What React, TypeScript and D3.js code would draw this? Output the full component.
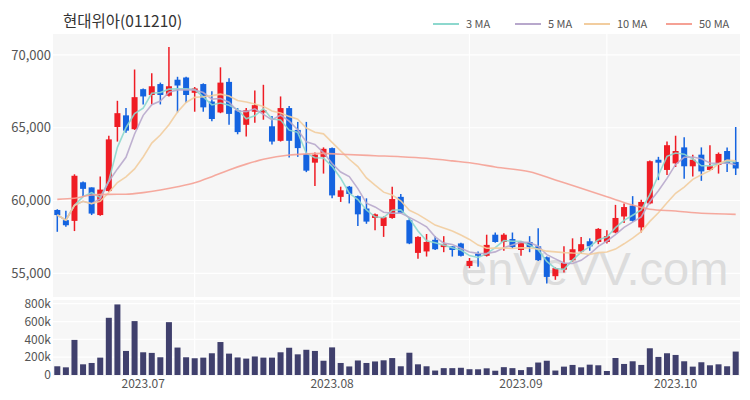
import * as d3 from 'd3'

// daily OHLC (KRW)
const opens = [
  59350, 58650, 58600, 61250, 60900, 59000, 60650, 65050, 65850, 64900,
  67650, 67250, 68000, 67200, 68300, 68450, 67400, 68000, 66800, 66050,
  68150, 66200, 65200, 66100, 66050, 65100, 64100, 66350, 64850, 63200,
  62600, 63000, 63600, 60250, 60950, 60300, 59450, 58800, 58250, 58800,
  60250, 58650, 56400, 56500, 57300, 56800, 56850, 57050, 55500, 56350,
  56200, 57650, 57150, 57350, 56600, 57150, 56850, 56100, 54800, 55250,
  55900, 56500, 57200, 57150, 57150, 57800, 58900, 59650, 58150, 59800,
  62800, 62100, 62550, 63650, 62350, 63150, 62100, 62450, 63400, 62650,
]
const highs = [
  59400, 59300, 61800, 61300, 60900, 61650, 64450, 66850, 66350, 69000,
  67700, 68750, 68100, 70550, 68500, 68500, 67800, 68050, 67500, 69150,
  68400, 66350, 66350, 67550, 67950, 65800, 67150, 66500, 65400, 65400,
  63300, 63650, 63650, 60950, 61000, 60350, 60150, 59100, 58900, 60950,
  60450, 58800, 57550, 57700, 57550, 57550, 56850, 57100, 56050, 56500,
  57650, 57800, 57750, 57800, 57200, 57550, 58100, 56150, 55400, 56850,
  57400, 57500, 57400, 58100, 57950, 59700, 59800, 60300, 60050, 62750,
  63000, 64050, 64450, 64350, 63150, 63650, 63800, 63300, 63650, 65050,
]
const lows = [
  57850, 58200, 57900, 60300, 59000, 58950, 60600, 64050, 64650, 64850,
  66600, 66600, 66600, 67150, 66050, 66700, 66100, 66100, 65450, 66000,
  65200, 64550, 64400, 65350, 65550, 63850, 64050, 62950, 63000, 61950,
  61000, 61850, 60150, 59900, 59800, 58250, 58400, 57950, 57500, 58750,
  59100, 57000, 56000, 56150, 56600, 56450, 56150, 56150, 55350, 55450,
  56150, 57100, 56550, 56700, 56200, 56450, 55850, 54300, 54550, 55050,
  55800, 56350, 56550, 57000, 57050, 57750, 58450, 58550, 57800, 59750,
  61400, 61750, 62300, 61500, 61650, 61350, 62050, 61850, 61950, 61750,
]
const closes = [
  59000, 58300, 61700, 60800, 59100, 60750, 64200, 66000, 64800, 67100,
  67150, 67850, 67250, 67850, 67900, 67250, 67700, 66400, 65600, 68100,
  65950, 64700, 66200, 66550, 66200, 64050, 66350, 64100, 63600, 62050,
  63150, 63550, 60350, 60700, 60450, 59050, 58550, 59050, 58850, 60100,
  59150, 57050, 57500, 57150, 56650, 57000, 56600, 56200, 55850, 56200,
  56950, 57150, 57650, 56800, 57150, 56800, 55900, 54750, 55350, 55700,
  56650, 57000, 56850, 58050, 57550, 58800, 59550, 58600, 59900, 62700,
  62600, 63800, 63400, 62350, 62800, 62000, 62350, 63200, 62550, 62200,
]
// volume, shares
const volumes = [
  98000, 86000, 394000, 120000, 135000, 195000, 642000, 792000, 270000, 605000,
  255000, 248000, 199000, 593000, 308000, 199000, 188000, 195000, 244000, 370000,
  240000, 197000, 184000, 208000, 195000, 195000, 255000, 306000, 232000, 283000,
  270000, 160000, 310000, 135000, 96000, 163000, 135000, 152000, 165000, 190000,
  98000, 250000, 120000, 98000, 50000, 77000, 77000, 81000, 65000, 64000,
  75000, 48000, 88000, 77000, 55000, 88000, 140000, 160000, 50000, 94000,
  113000, 86000, 116000, 109000, 45000, 191000, 124000, 154000, 113000, 300000,
  203000, 244000, 225000, 154000, 94000, 143000, 109000, 120000, 98000, 263000,
]
// 50 MA needs history before the window, so it's
const ma50Points: [number, number][] = [
  [0, 60080], [2, 60150], [4, 60380], [6, 60420], [8, 60430], [10, 60540],
  [12, 60720], [14, 60950], [16, 61220], [18, 61640], [20, 62100], [22, 62500],
  [24, 62830], [27, 63130], [29, 63200], [31, 63240], [33, 63180], [37, 63080],
  [40, 63010], [43, 62900], [46, 62720], [49, 62510], [51, 62300], [55, 61980],
  [58, 61410], [61, 60840], [64, 60260], [67, 59690], [69, 59400], [72, 59280],
  [75, 59120], [79, 59050],
]
const monthTicks = [
  { i: 10, label: '2023.07' },
  { i: 32, label: '2023.08' },
  { i: 54, label: '2023.09' },
  { i: 72, label: '2023.10' },
]
const gridIdx = [16, 32, 48, 64]
const priceTicks = [55000, 60000, 65000, 70000]
const volTicks = [0, 200000, 400000, 600000, 800000]

const maSeries = [
  { name: '3 MA', n: 3, color: '#8dd8ce' },
  { name: '5 MA', n: 5, color: '#b8a8cc' },
  { name: '10 MA', n: 10, color: '#f2cd9f' },
  { name: '50 MA', n: 50, color: '#f5a195' },
]

const UP = '#ef1c24'
const DOWN = '#1463e0'
const FONT = '"Noto Sans CJK KR", "Noto Sans", sans-serif'

function rolling(n: number) {
  return closes.map((_, i) => d3.mean(closes.slice(Math.max(0, i - n + 1), i + 1)) as number)
}

export default function App() {
  const left = 53
  const right = 740
  const priceTop = 34
  const priceBottom = 297
  const volTop = 300
  const volBase = 375

  const x = d3
    .scaleBand<number>()
    .domain(d3.range(closes.length))
    .range([left, right])
    .paddingInner(0.3)
    .paddingOuter(0.15)
  const cx = (i: number) => (x(i) ?? 0) + x.bandwidth() / 2

  const y = d3.scaleLinear().domain([53370, 71440]).range([priceBottom, priceTop])
  const yv = d3.scaleLinear().domain([0, 853000]).range([volBase, volTop - 1])

  const line = d3
    .line<[number, number]>()
    .x((d) => cx(d[0]))
    .y((d) => y(d[1]))

  const maPaths = maSeries.map((m) => {
    const pts: [number, number][] =
      m.n === 50 ? ma50Points : rolling(m.n).map((v, i) => [i, v] as [number, number])
    return { ...m, d: line.curve(m.n === 50 ? d3.curveMonotoneX : d3.curveLinear)(pts) ?? '' }
  })

  const legendX = [433, 515, 584, 666]

  return (
    <svg width={750} height={400} style={{ position: 'absolute', left: 0, top: 0, fontFamily: FONT }}>
      <rect width={750} height={400} fill="#fff" />
      <text x={63} y={27} fontSize={15.5} fill="#333">
        현대위아(011210)
      </text>
      {maSeries.map((m, k) => (
        <g key={m.name} transform={`translate(${legendX[k]},24)`}>
          <line x1={0} x2={26} y1={0} y2={0} stroke={m.color} strokeWidth={2} />
          <text x={33} y={4} fontSize={11} fill="#555">
            {m.name}
          </text>
        </g>
      ))}

      {/* price panel */}
      <rect x={left} y={priceTop} width={right - left} height={priceBottom - priceTop} fill="#f6f6f6" />
      {priceTicks.map((t) => (
        <g key={t}>
          <line x1={left} x2={right} y1={y(t)} y2={y(t)} stroke="#fff" strokeWidth={1.2} />
          <text x={51} y={y(t)} dy="0.35em" textAnchor="end" fontSize={13} fill="#555">
            {d3.format(',')(t)}
          </text>
        </g>
      ))}
      {gridIdx.map((i) => (
        <line key={i} x1={cx(i)} x2={cx(i)} y1={priceTop} y2={priceBottom} stroke="#fff" strokeWidth={1.2} />
      ))}
      <text x={461} y={285} fontSize={47} fill="#dcdcdc" fontFamily="Liberation Sans, Arial, sans-serif">
        enVeVV.com
      </text>

      {closes.map((c, i) => {
        const o = opens[i]
        const up = c >= o
        const col = up ? UP : DOWN
        const top = y(Math.max(o, c))
        const bot = y(Math.min(o, c))
        return (
          <g key={i}>
            <line x1={cx(i)} x2={cx(i)} y1={y(highs[i])} y2={y(lows[i])} stroke={col} strokeWidth={1.5} />
            <rect x={x(i)} y={top} width={x.bandwidth()} height={Math.max(1.5, bot - top)} fill={col} />
          </g>
        )
      })}

      {maPaths.map((m) => (
        <path key={m.name} d={m.d} fill="none" stroke={m.color} strokeWidth={1.6} opacity={0.9} />
      ))}

      {/* volume panel */}
      <rect x={left} y={volTop} width={right - left} height={volBase + 1 - volTop} fill="#f7f7f7" />
      {volTicks.map((t) => (
        <g key={t}>
          {t > 0 && <line x1={left} x2={right} y1={yv(t)} y2={yv(t)} stroke="#fff" strokeWidth={1.2} />}
          <text x={51} y={yv(t)} dy="0.35em" textAnchor="end" fontSize={12} fill="#555">
            {t === 0 ? '0' : `${t / 1000}k`}
          </text>
        </g>
      ))}
      {gridIdx.map((i) => (
        <line key={i} x1={cx(i)} x2={cx(i)} y1={volTop} y2={volBase} stroke="#fff" strokeWidth={1.2} />
      ))}
      {volumes.map((v, i) => (
        <rect key={i} x={x(i)} y={yv(v)} width={x.bandwidth()} height={volBase - yv(v)} fill="#40406d" />
      ))}
      {monthTicks.map((t) => (
        <text key={t.label} x={cx(t.i)} y={388} textAnchor="middle" fontSize={12} fill="#555">
          {t.label}
        </text>
      ))}
    </svg>
  )
}
